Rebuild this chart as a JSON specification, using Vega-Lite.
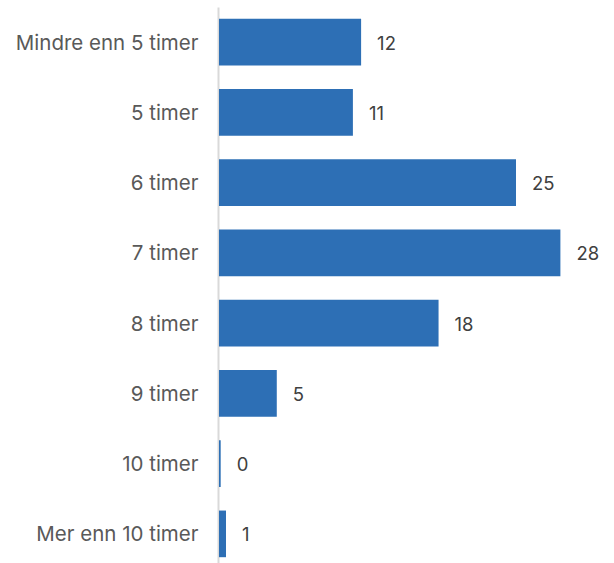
{
  "$schema": "https://vega.github.io/schema/vega-lite/v6.json",
  "width": 380,
  "height": 562,
  "autosize": {"type": "none"},
  "padding": {"left": 219, "top": 7, "right": 15, "bottom": 0},
  "background": "white",
  "config": {"view": {"stroke": null}},
  "data": {
    "values": [
      {"kategori": "Mindre enn 5 timer", "verdi": 11.78},
      {"kategori": "5 timer", "verdi": 11.1},
      {"kategori": "6 timer", "verdi": 24.62},
      {"kategori": "7 timer", "verdi": 28.3},
      {"kategori": "8 timer", "verdi": 18.2},
      {"kategori": "9 timer", "verdi": 4.79},
      {"kategori": "10 timer", "verdi": 0.14},
      {"kategori": "Mer enn 10 timer", "verdi": 0.58}
    ]
  },
  "encoding": {
    "y": {
      "field": "kategori",
      "type": "nominal",
      "sort": null,
      "scale": {"paddingInner": 0.336, "paddingOuter": 0.168},
      "axis": {
        "title": null,
        "ticks": false,
        "labelPadding": 20,
        "labelFontSize": 20.5,
        "labelFont": "Inter",
        "labelColor": "#595959",
        "labelLimit": 400,
        "labelOffset": 1.5,
        "domainColor": "#d9d9d9",
        "domainWidth": 2,
        "offset": 1
      }
    },
    "x": {
      "field": "verdi",
      "type": "quantitative",
      "scale": {"domain": [0, 31.5], "nice": false},
      "axis": null
    }
  },
  "layer": [
    {"mark": {"type": "bar", "color": "#2D6FB5"}},
    {
      "mark": {"type": "text", "align": "left", "baseline": "middle", "dx": 16, "dy": 1.5, "fontSize": 18.5, "font": "Inter", "color": "#404040"},
      "encoding": {"text": {"field": "verdi", "type": "quantitative", "format": ".0f"}}
    }
  ]
}
